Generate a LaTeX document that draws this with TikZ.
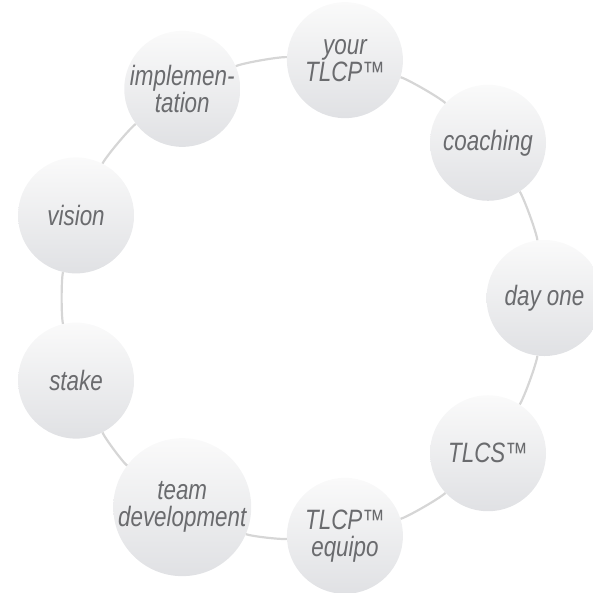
\documentclass[tikz,border=0pt]{standalone}
\usepackage{fontspec}
\setmainfont{Liberation Sans}[FakeStretch=0.8]
\usetikzlibrary{calc}
\definecolor{ringgray}{RGB}{214,214,214}
\definecolor{bubtop}{RGB}{250,250,250}
\definecolor{bubbot}{RGB}{224,225,228}
\definecolor{txtgray}{RGB}{106,107,110}
\begin{document}
\begin{tikzpicture}[
  bub/.style={circle, minimum size=116pt, inner sep=0pt, top color=bubtop, bottom color=bubbot,
    draw=none, text=txtgray, align=center, font=\fontsize{28}{27}\selectfont\itshape},
  ring/.style={draw=ringgray, line width=2.2pt, bend left=13, looseness=0.4}
]
\useasboundingbox (0pt,0pt) rectangle (593pt,-592pt);
\coordinate (c) at (303pt,-298pt);
\def\R{241.5pt}
\node[bub] (your)  at ($(c)+(80:\R)$)   {your\\TLCP™};
\node[bub] (coach) at ($(c)+(40:\R)$)   {coaching};
\node[bub] (day)   at ($(c)+(0:\R)$)    {day one};
\node[bub] (tlcs)  at ($(c)+(-40:\R)$)  {TLCS™};
\node[bub] (equipo) at ($(c)+(-80:\R)$) {TLCP™\\equipo};
\node[bub] (team)  at ($(c)+(-120:\R)$) {team\\development};
\node[bub] (stake) at ($(c)+(-160:\R)$) {stake};
\node[bub] (vision) at ($(c)+(160:\R)$) {vision};
\node[bub] (impl)  at ($(c)+(120:\R)$)  {implemen-\\tation};
\draw[ring] (your) to (coach);
\draw[ring] (coach) to (day);
\draw[ring] (day) to (tlcs);
\draw[ring] (tlcs) to (equipo);
\draw[ring] (equipo) to (team);
\draw[ring] (team) to (stake);
\draw[ring] (stake) to (vision);
\draw[ring] (vision) to (impl);
\draw[ring] (impl) to (your);
\end{tikzpicture}
\end{document}
